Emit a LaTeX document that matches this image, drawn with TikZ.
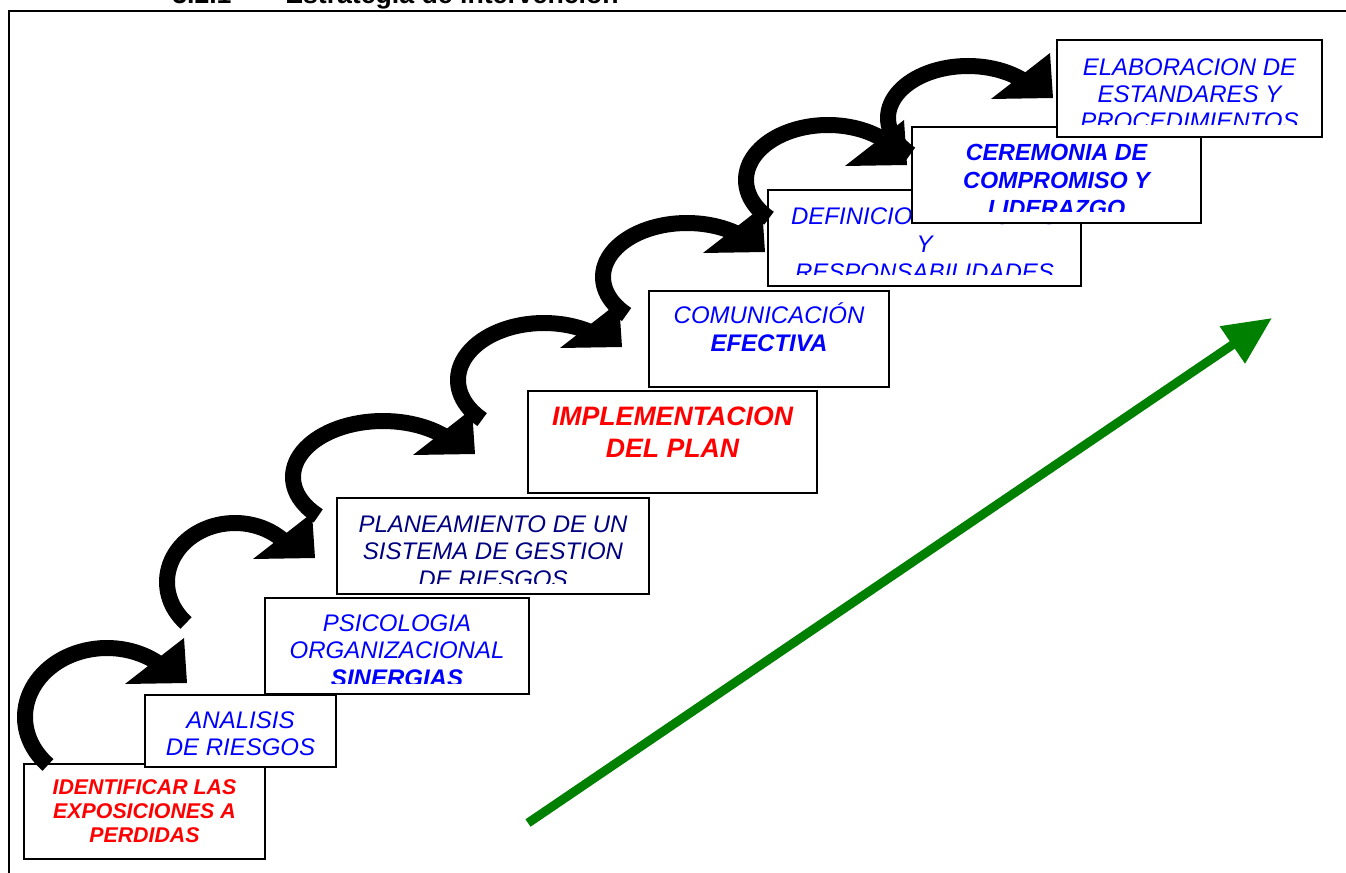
\documentclass[tikz,border=0pt]{standalone}
\usepackage{fontspec}
\setmainfont{Liberation Sans}
\usetikzlibrary{calc,arrows.meta}
\definecolor{txtblue}{RGB}{0,0,255}
\definecolor{txtnavy}{RGB}{0,0,128}
\definecolor{txtred}{RGB}{255,0,0}
\definecolor{arrowgreen}{RGB}{0,128,0}
\tikzset{
  stepbox/.style={draw=black, line width=1.5pt, fill=white, inner sep=0pt},
  band/.style={line width=12pt, black},
  boxtext/.style={anchor=north, inner sep=0pt, align=center},
}
% box from (x1,y1) to (x2,y2), image pixel coordinates
\newcommand{\stepnode}[5]{%
  \pgfmathsetmacro\bw{(#4-#2)*0.75}%
  \pgfmathsetmacro\bh{(#5-#3)*0.75}%
  \node[stepbox, minimum width=\bw pt, minimum height=\bh pt] (#1) at ({(#2+#4)/2},{(#3+#5)/2}) {};}
% curved black arrow: name, tip x, tip y, centre dx, centre dy, radius a, radius b
\newcommand{\swoosh}[7]{%
  \coordinate (#1) at (#2,#3);
  \pgfmathsetmacro\swA{#6}%
  \pgfmathsetmacro\swB{#7}%
  \pgfmathsetmacro\swCx{#2+(#4)}%
  \pgfmathsetmacro\swCy{#3+(#5)}%
  \pgfmathsetmacro\swEnd{360-acos((-25-(#4))/(#6))}%
  \fill[black] (#1) -- ($(#1)+(-3,-45)$) -- ($(#1)+(-62,1)$) -- cycle;
  \draw[band] plot[domain=136:\swEnd, samples=50, variable=\t] ({\swCx+\swA*cos(\t)},{\swCy+\swB*sin(\t)});
}
\begin{document}
\begin{tikzpicture}[x=0.75pt,y=-0.75pt]
\useasboundingbox (0,0) rectangle (1346,873);
\fill[white] (0,0) rectangle (1346,873);

% frame
\draw[line width=1.5pt] (9,1000) -- (9,11) -- (1400,11);

% title (cut by the top edge)
\node[anchor=base west, inner sep=0pt, font=\fontsize{20}{24}\selectfont\bfseries] (secnum) at (172,4) {3.2.1};
\node[anchor=base west, inner sep=0pt, font=\fontsize{20}{24}\selectfont\bfseries] (sectitle) at (285,4) {Estrategia de intervención};

% 1
\stepnode{b1}{24}{764}{265}{859}
\node[boxtext, text=txtred, font=\fontsize{16}{18.2}\selectfont\bfseries\itshape] (b1t) at (144.5,779) {IDENTIFICAR LAS\\EXPOSICIONES A\\PERDIDAS};
% 2
\stepnode{b2}{145}{695}{336}{767}
\node[boxtext, text=txtblue, font=\fontsize{18}{20.4}\selectfont\itshape] (b2t) at (240.5,711) {ANALISIS\\DE RIESGOS};
% 3
\stepnode{b3}{265}{598}{529}{694}
\begin{scope}
\clip (265,598) rectangle (529,683);
\node[boxtext, text=txtblue, font=\fontsize{18}{20.8}\selectfont\itshape] (b3t) at (397,614) {PSICOLOGIA\\ORGANIZACIONAL\\{\bfseries SINERGIAS}};
\end{scope}
% 4
\stepnode{b4}{337}{498}{649}{594}
\begin{scope}
\clip (337,498) rectangle (649,583);
\node[boxtext, text=txtnavy, font=\fontsize{18}{20.8}\selectfont\itshape] (b4t) at (493,515) {PLANEAMIENTO DE UN\\SISTEMA DE GESTION\\DE RIESGOS};
\end{scope}
% 5
\stepnode{b5}{528}{391}{817}{493}
\node[boxtext, text=txtred, font=\fontsize{20}{24}\selectfont\bfseries\itshape] (b5t) at (672.5,407) {IMPLEMENTACION\\DEL PLAN};
% 6
\stepnode{b6}{649}{291}{889}{387}
\node[boxtext, text=txtblue, font=\fontsize{18}{21.5}\selectfont\itshape] (b6t) at (769,306) {COMUNICACI\smash{Ó}N\\{\bfseries EFECTIVA}};
% 7
\stepnode{b7}{768}{190}{1081}{286}
\begin{scope}
\clip (768,190) rectangle (1081,275);
\node[boxtext, text=txtblue, font=\fontsize{18}{21}\selectfont\itshape] (b7t) at (924.5,207) {DEFINICION DE ROLES\\Y\\RESPONSABILIDADES};
\end{scope}
% 8
\stepnode{b8}{912}{127}{1201}{223}
\begin{scope}
\clip (912,127) rectangle (1201,212);
\node[boxtext, text=txtblue, font=\fontsize{17.5}{21}\selectfont\bfseries\itshape] (b8t) at (1056.5,144) {CEREMONIA DE\\COMPROMISO Y\\LIDERAZGO};
\end{scope}
% 9
\stepnode{b9}{1057}{40}{1322}{137}
\begin{scope}
\clip (1057,40) rectangle (1322,125);
\node[boxtext, text=txtblue, font=\fontsize{18}{20.4}\selectfont\itshape] (b9t) at (1189.5,58) {ELABORACION DE\\ESTANDARES Y\\PROCEDIMIENTOS};
\end{scope}

% curved arrows
\swoosh{a1}{187}{683}{-80}{34}{82}{69}
\swoosh{a2}{315}{558}{-80}{24}{68}{59}
\swoosh{a3}{475}{454}{-92}{23}{90}{56}
\swoosh{a4}{622}{347}{-78}{33}{86}{57}
\swoosh{a5}{765}{252}{-78}{25}{84}{54}
\swoosh{a6}{907}{165}{-79}{15}{82}{55}
\swoosh{a7}{1053}{98}{-85}{20}{80}{52}

% green arrow
\coordinate (g0) at (528,823);
\coordinate (g1) at (1272,318);
\draw[arrowgreen, line width=6.75pt, -{Triangle[length=36pt,width=32pt]}] (g0) -- (g1);
\end{tikzpicture}
\end{document}
